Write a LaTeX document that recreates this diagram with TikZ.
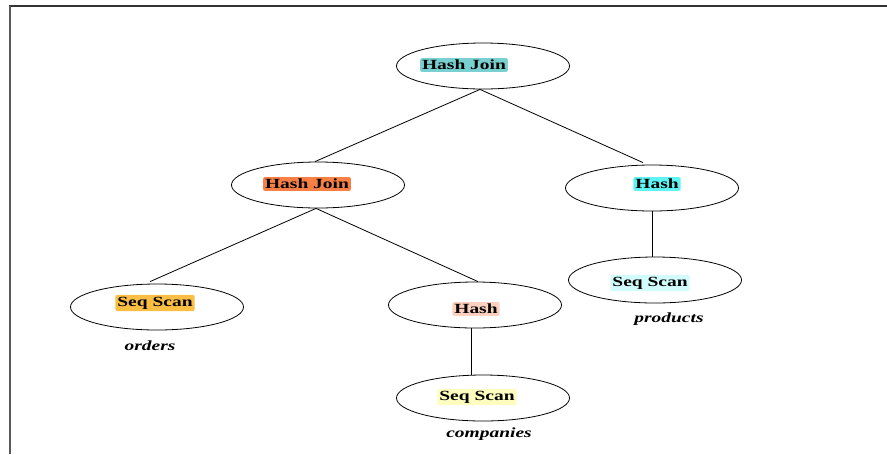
\documentclass[tikz,border=0pt]{standalone}
\usepackage{fontspec}
\setmainfont{Liberation Serif}
\newfontfamily\labfont[FakeStretch=1.39]{Liberation Serif}
\usetikzlibrary{shapes.geometric,calc}
\definecolor{cRoot}{HTML}{79D0D0}
\definecolor{cHJ}{HTML}{FA7F45}
\definecolor{cHashR}{HTML}{5FF4F4}
\definecolor{cOrders}{HTML}{FABE45}
\definecolor{cHashM}{HTML}{FDD0C0}
\definecolor{cComp}{HTML}{FDFDC0}
\definecolor{cProd}{HTML}{D2FBFB}
\tikzset{
  opnode/.style={draw, ellipse, line width=0.6pt, minimum width=173*0.75pt, minimum height=46*0.75pt, inner sep=0pt},
  oplabel/.style={rounded corners=1.5pt, inner xsep=1.5pt, inner ysep=1.5pt, font=\labfont\fontsize{10.5}{12}\selectfont\bfseries},
  tablabel/.style={inner sep=0pt, font=\labfont\fontsize{10.5}{12}\selectfont\bfseries\itshape},
  link/.style={line width=0.6pt}
}
\begin{document}
\begin{tikzpicture}[x=0.75pt,y=-0.75pt]
\useasboundingbox (0,0) rectangle (887,454);
\fill[white] (0,0) rectangle (887,454);
% frame
\draw[line width=0.8pt, draw=black!80] (9,6) -- (887,6);
\draw[line width=1.5pt, draw=black!65] (10,6) -- (10,454);
% ellipses
\node[opnode] (root) at (483,66) {};
\node[opnode] (hj) at (318,185) {};
\node[opnode] (hashr) at (652,188) {};
\node[opnode] (ord) at (157,307) {};
\node[opnode] (hashm) at (475,305) {};
\node[opnode] (comp) at (483,398) {};
\node[opnode] (prod) at (655,280) {};
% labels
\node[oplabel, fill=cRoot] (lroot) at (464,65) {Hash Join};
\node[oplabel, fill=cHJ] (lhj) at (307,184) {Hash Join};
\node[oplabel, fill=cHashR] (lhashr) at (657,184) {Hash};
\node[oplabel, fill=cOrders] (lord) at (155,303) {Seq Scan};
\node[oplabel, fill=cHashM] (lhashm) at (476,309) {Hash};
\node[oplabel, fill=cComp] (lcomp) at (477,397) {Seq Scan};
\node[oplabel, fill=cProd] (lprod) at (650,283) {Seq Scan};
% table names
\node[tablabel] (tord) at (150,346) {orders};
\node[tablabel] (tcomp) at (489,434) {companies};
\node[tablabel] (tprod) at (669,319) {products};
% connectors
\draw[link] ($(root.south)+(-3,0)$) -- ($(hj.north)+(-3,0)$);
\draw[link] ($(root.south)+(-3,0)$) -- ($(hashr.north)+(-9,-2)$);
\draw[link] ($(hj.south)+(-2,0)$) -- ($(ord.north)+(-7,-2)$);
\draw[link] ($(hj.south)+(-2,0)$) -- ($(hashm.north)+(3,0)$);
\draw[link] (hashr.south) -- (prod.north -| hashr.south);
\draw[link] ($(hashm.south)+(-4,0)$) -- ($(comp.north)+(-12,0)$);
\end{tikzpicture}
\end{document}
